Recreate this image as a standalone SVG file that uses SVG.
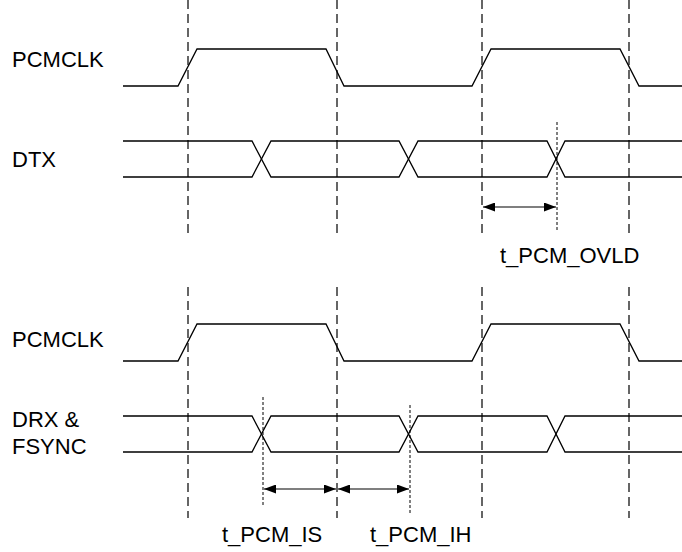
<svg xmlns="http://www.w3.org/2000/svg" width="682" height="552" viewBox="0 0 682 552">
<style>
.lbl{font-family:"Liberation Sans",Arial,sans-serif;font-size:22px;fill:#000}
.sig{fill:none;stroke:#000;stroke-width:1.3}
.grid{stroke:#333;stroke-width:1.5;stroke-dasharray:9 5;fill:none}
.dot{stroke:#000;stroke-width:1;stroke-dasharray:3 2;fill:none}
.dim{stroke:#000;stroke-width:1.2;fill:none}
</style>
<defs>
<marker id="ah" viewBox="0 0 12 9" refX="12" refY="4.5" markerWidth="12" markerHeight="9" markerUnits="userSpaceOnUse" orient="auto-start-reverse">
<path d="M0,0 L12,4.5 L0,9 Z" fill="#000"/>
</marker>
</defs>
<rect width="682" height="552" fill="#fff"/>
<g id="gridlines">
<line class="grid" x1="188" y1="0" x2="188" y2="234"/>
<line class="grid" x1="337" y1="0" x2="337" y2="234"/>
<line class="grid" x1="482" y1="0" x2="482" y2="234"/>
<line class="grid" x1="629" y1="0" x2="629" y2="234"/>
<line class="grid" x1="188" y1="287" x2="188" y2="518"/>
<line class="grid" x1="337" y1="287" x2="337" y2="518"/>
<line class="grid" x1="482" y1="287" x2="482" y2="518"/>
<line class="grid" x1="629" y1="287" x2="629" y2="518"/>
</g>
<g id="pcmclk1">
<text class="lbl" x="12" y="67">PCMCLK</text>
<polyline class="sig" points="123,86 178,86 197,49 326,49 344,86 472,86 491,49 620,49 639,86 682,86"/>
</g>
<g id="dtx">
<text class="lbl" x="12" y="167">DTX</text>
<polyline class="sig" points="123,141 252,141 271,177 399,177 418,141 547,141 565,177 682,177"/>
<polyline class="sig" points="123,177 252,177 271,141 399,141 418,177 547,177 565,141 682,141"/>
</g>
<g id="pcmclk2">
<text class="lbl" x="12" y="347">PCMCLK</text>
<polyline class="sig" points="123,361 178,361 197,324 326,324 344,361 472,361 491,324 620,324 639,361 682,361"/>
</g>
<g id="drx">
<text class="lbl" x="12" y="427">DRX &amp;</text>
<text class="lbl" x="12" y="454">FSYNC</text>
<polyline class="sig" points="123,416 252,416 271,452 399,452 418,416 547,416 565,452 682,452"/>
<polyline class="sig" points="123,452 252,452 271,416 399,416 418,452 547,452 565,416 682,416"/>
</g>
<g id="connectors">
<line class="dot" x1="557" y1="122" x2="557" y2="232"/>
<line class="dot" x1="263" y1="397" x2="263" y2="507"/>
<line class="dot" x1="410" y1="405" x2="410" y2="515"/>
<line class="dim" x1="483" y1="207" x2="556" y2="207" marker-start="url(#ah)" marker-end="url(#ah)"/>
<line class="dim" x1="264" y1="489" x2="336" y2="489" marker-start="url(#ah)" marker-end="url(#ah)"/>
<line class="dim" x1="338" y1="489" x2="409" y2="489" marker-start="url(#ah)" marker-end="url(#ah)"/>
</g>
<g id="timing-labels">
<text class="lbl" x="500" y="263">t_PCM_OVLD</text>
<text class="lbl" x="222" y="542">t_PCM_IS</text>
<text class="lbl" x="370" y="542">t_PCM_IH</text>
</g>
</svg>
